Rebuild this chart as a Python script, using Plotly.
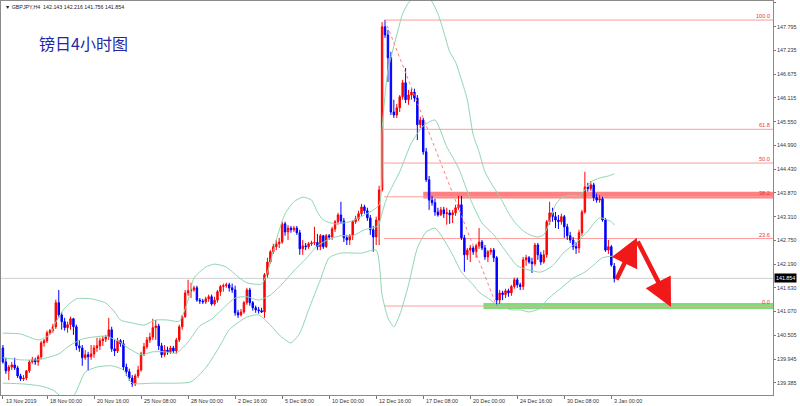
import plotly.graph_objects as go

# ---------------- data (GBPJPY H4) ----------------
opens = [
140.21, 139.88, 139.67, 139.76, 139.81, 139.74, 139.55, 139.48, 139.50, 139.67,
139.88, 139.93, 139.88, 140.00, 140.33, 140.38, 140.57, 140.62, 140.71, 141.28,
140.99, 140.83, 140.69, 140.76, 140.90, 140.71, 140.26, 140.21, 139.98, 140.05,
140.00, 140.07, 140.21, 140.26, 140.38, 140.42, 140.47, 140.64, 140.19, 140.14,
140.38, 140.31, 139.76, 139.65, 139.50, 139.36, 139.55, 139.69, 140.07, 140.24,
140.40, 140.47, 140.69, 140.73, 140.26, 140.05, 140.16, 140.12, 140.21, 140.14,
140.40, 140.71, 140.95, 141.51, 141.56, 141.58, 141.63, 141.34, 141.32, 141.30,
141.37, 141.42, 141.25, 141.34, 141.54, 141.66, 141.68, 141.70, 141.63, 141.58,
141.04, 140.99, 141.06, 141.28, 141.58, 141.28, 141.16, 141.11, 141.09, 141.06,
141.94, 142.24, 142.48, 142.60, 142.67, 142.71, 143.14, 142.95, 143.04, 143.00,
143.04, 142.93, 142.55, 142.62, 142.60, 142.67, 142.69, 142.70, 142.60, 142.86,
142.60, 142.86, 142.83, 143.02, 143.19, 143.35, 143.21, 142.81, 142.76, 142.86,
143.19, 143.26, 143.38, 143.54, 143.45, 143.28, 143.00, 142.83, 143.23, 143.94,
147.79, 147.60, 147.06, 145.78, 145.71, 145.88, 146.14, 146.47, 146.07, 146.18,
146.25, 146.11, 145.48, 145.59, 144.84, 144.18, 143.70, 143.64, 143.42, 143.35,
143.47, 143.38, 143.40, 143.35, 143.40, 143.52, 143.59, 142.81, 142.41, 142.52,
142.57, 142.48, 142.62, 142.71, 142.57, 142.36, 142.48, 142.52, 142.34, 141.34,
141.51, 141.47, 141.56, 141.51, 141.66, 141.82, 141.70, 141.66, 142.29, 142.34,
142.24, 142.20, 142.64, 142.41, 142.24, 142.41, 143.19, 143.40, 143.31, 143.23,
143.19, 143.31, 143.07, 142.86, 142.76, 142.60, 142.57, 142.93, 143.42, 144.01,
143.97, 144.06, 143.76, 143.70, 143.73, 143.23, 142.52, 142.60, 142.143]

highs = [
140.28, 139.98, 139.81, 139.88, 139.98, 139.79, 139.60, 139.57, 139.69, 139.93,
140.00, 139.98, 140.05, 140.38, 140.42, 140.62, 140.66, 140.78, 141.35, 141.58,
141.06, 140.92, 140.83, 140.95, 140.92, 140.76, 140.40, 140.28, 140.16, 140.12,
140.28, 140.28, 140.45, 140.45, 140.49, 140.52, 140.92, 140.71, 140.40, 140.45,
140.42, 140.40, 139.84, 139.72, 139.57, 139.60, 139.79, 140.12, 140.33, 140.47,
140.57, 140.90, 140.87, 140.78, 140.33, 140.28, 140.24, 140.26, 140.26, 140.45,
140.76, 140.99, 141.58, 141.82, 141.75, 141.68, 141.68, 141.39, 141.37, 141.42,
141.47, 141.47, 141.42, 141.58, 141.70, 141.73, 141.75, 141.75, 141.73, 141.68,
141.11, 141.13, 141.32, 141.63, 141.63, 141.32, 141.21, 141.18, 141.16, 141.98,
142.34, 142.52, 142.67, 142.76, 142.81, 143.19, 143.19, 143.11, 143.09, 143.09,
143.09, 143.00, 142.76, 142.69, 142.71, 142.74, 143.07, 142.90, 142.90, 142.88,
142.90, 142.90, 143.07, 143.23, 143.40, 143.66, 143.28, 142.88, 142.90, 143.23,
143.33, 143.45, 143.61, 143.59, 143.52, 143.35, 143.09, 143.31, 144.04, 147.90,
147.95, 147.72, 147.20, 146.07, 145.97, 146.18, 146.54, 146.82, 146.30, 146.35,
146.33, 146.18, 145.67, 145.64, 144.93, 144.27, 143.80, 143.73, 143.52, 143.54,
143.54, 143.52, 143.47, 143.47, 143.59, 143.80, 143.80, 142.88, 142.57, 142.64,
142.62, 142.67, 143.04, 142.76, 142.64, 142.52, 142.57, 142.57, 142.38, 141.58,
141.56, 141.61, 141.61, 141.70, 141.87, 141.87, 141.75, 142.36, 142.41, 142.38,
142.34, 142.69, 142.69, 142.48, 142.52, 143.23, 143.66, 143.52, 143.42, 143.35,
143.38, 143.35, 143.14, 142.95, 142.83, 142.71, 143.00, 143.47, 144.37, 144.11,
144.15, 144.11, 143.85, 143.82, 143.78, 143.28, 142.76, 142.64, 142.216]

lows = [
139.84, 139.60, 139.45, 139.69, 139.69, 139.50, 139.43, 139.43, 139.45, 139.62,
139.84, 139.81, 139.79, 139.95, 140.24, 140.33, 140.52, 140.57, 140.66, 140.92,
140.64, 140.62, 140.57, 140.64, 140.52, 140.16, 140.12, 139.79, 139.93, 139.67,
139.93, 139.98, 140.12, 140.16, 140.26, 140.35, 140.40, 140.12, 140.02, 140.09,
140.24, 139.69, 139.55, 139.43, 139.29, 139.31, 139.50, 139.65, 140.02, 140.19,
140.33, 140.40, 140.40, 140.16, 139.98, 140.00, 140.05, 140.07, 140.09, 140.07,
140.35, 140.64, 140.92, 141.44, 141.39, 141.54, 141.30, 141.25, 141.25, 141.25,
141.30, 141.21, 141.21, 141.28, 141.44, 141.54, 141.63, 141.54, 141.51, 140.97,
140.92, 140.95, 141.02, 141.23, 141.21, 141.09, 141.04, 141.02, 141.04, 140.92,
141.87, 142.20, 142.43, 142.52, 142.57, 142.67, 142.86, 142.76, 142.93, 142.95,
142.88, 142.41, 142.41, 142.52, 142.55, 142.62, 142.64, 142.52, 142.52, 142.55,
142.57, 142.76, 142.76, 142.95, 143.12, 143.14, 142.71, 142.64, 142.64, 142.76,
143.14, 143.21, 143.33, 143.38, 143.21, 142.88, 142.48, 142.64, 142.64, 143.90,
147.53, 146.49, 145.71, 145.64, 145.64, 145.78, 146.07, 145.99, 145.95, 146.07,
146.02, 145.12, 145.40, 144.77, 144.13, 143.47, 143.57, 143.33, 143.31, 143.33,
143.28, 143.12, 143.14, 143.16, 143.33, 143.47, 142.76, 142.01, 142.29, 142.24,
142.41, 142.34, 142.55, 142.52, 142.29, 142.24, 142.41, 142.24, 141.20, 141.25,
141.34, 141.39, 141.42, 141.44, 141.61, 141.63, 141.58, 141.58, 142.15, 142.20,
141.98, 142.15, 142.29, 142.17, 142.20, 142.34, 143.12, 143.19, 143.04, 143.02,
143.12, 142.81, 142.76, 142.69, 142.52, 142.43, 142.45, 142.86, 143.38, 143.90,
143.92, 143.68, 143.64, 143.64, 143.19, 142.48, 142.43, 142.13, 141.756]

closes = [
139.88, 139.67, 139.76, 139.81, 139.74, 139.55, 139.48, 139.50, 139.67, 139.88,
139.93, 139.88, 140.00, 140.33, 140.38, 140.57, 140.62, 140.71, 141.28, 140.99,
140.83, 140.69, 140.76, 140.90, 140.71, 140.26, 140.21, 139.98, 140.05, 140.00,
140.07, 140.21, 140.26, 140.38, 140.42, 140.47, 140.64, 140.19, 140.14, 140.38,
140.31, 139.76, 139.65, 139.50, 139.36, 139.55, 139.69, 140.07, 140.24, 140.40,
140.47, 140.69, 140.73, 140.26, 140.05, 140.16, 140.12, 140.21, 140.14, 140.40,
140.71, 140.95, 141.51, 141.56, 141.58, 141.63, 141.34, 141.32, 141.30, 141.37,
141.42, 141.25, 141.34, 141.54, 141.66, 141.68, 141.70, 141.63, 141.58, 141.04,
140.99, 141.06, 141.28, 141.58, 141.28, 141.16, 141.11, 141.09, 141.06, 141.94,
142.24, 142.48, 142.60, 142.67, 142.71, 143.14, 142.95, 143.04, 143.00, 143.04,
142.93, 142.55, 142.62, 142.60, 142.67, 142.69, 142.70, 142.60, 142.86, 142.60,
142.86, 142.83, 143.02, 143.19, 143.35, 143.21, 142.81, 142.76, 142.86, 143.19,
143.26, 143.38, 143.54, 143.45, 143.28, 143.00, 142.83, 143.23, 143.94, 147.79,
147.60, 147.06, 145.78, 145.71, 145.88, 146.14, 146.47, 146.07, 146.18, 146.25,
146.11, 145.48, 145.59, 144.84, 144.18, 143.70, 143.64, 143.42, 143.35, 143.47,
143.38, 143.40, 143.35, 143.40, 143.52, 143.59, 142.81, 142.41, 142.52, 142.57,
142.48, 142.62, 142.71, 142.57, 142.36, 142.48, 142.52, 142.34, 141.34, 141.51,
141.47, 141.56, 141.51, 141.66, 141.82, 141.70, 141.66, 142.29, 142.34, 142.24,
142.20, 142.64, 142.41, 142.24, 142.41, 143.19, 143.40, 143.31, 143.23, 143.19,
143.31, 143.07, 142.86, 142.76, 142.60, 142.57, 142.93, 143.42, 144.01, 143.97,
144.06, 143.76, 143.70, 143.73, 143.23, 142.52, 142.60, 142.17, 141.854]

# Bollinger bands (bar index, price)
bb_upper_idx = [0, 6, 12, 16, 18, 21, 25, 30, 35, 38, 40, 44, 48, 52, 56, 60, 63, 65, 69, 72,
                76, 80, 83, 88, 90, 93, 96, 99, 102, 105, 107, 109, 113, 118, 123, 128, 129, 130, 131, 132,
                134, 136, 138, 141, 144, 146, 148, 150, 152, 154, 156, 158, 160, 162, 164, 166, 168, 170, 172, 174,
                176, 178, 180, 182, 184, 186, 188, 190, 193, 196, 198, 200, 203, 206, 208]
bb_upper = [140.56, 140.54, 140.40, 140.52, 140.82, 141.15, 141.37, 141.37, 141.27, 141.06,
            140.87, 140.80, 140.75, 140.87, 140.87, 140.84, 141.34, 141.86, 142.12, 142.19,
            142.12, 141.89, 141.75, 141.72, 142.00, 142.76, 143.38, 143.66, 143.77, 143.70,
            143.42, 143.23, 143.14, 143.19, 143.35, 143.59, 145.36, 146.18, 146.77, 147.06,
            147.60, 148.10, 148.36, 148.52, 148.52, 148.38, 148.10, 147.67, 147.20, 146.96,
            146.54, 146.07, 145.24, 144.84, 144.37, 144.11, 143.89, 143.66, 143.40, 143.19,
            143.04, 142.93, 142.86, 142.83, 142.88, 143.19, 143.59, 143.75, 143.82, 143.80,
            143.94, 144.13, 144.22, 144.27, 144.32]

bb_mid_idx = [0, 6, 12, 16, 19, 23, 27, 31, 35, 39, 43, 47, 51, 55, 59, 63, 67, 71, 75, 79,
              83, 87, 91, 95, 99, 103, 107, 111, 115, 119, 123, 127, 128, 129, 130, 131, 135, 139, 143, 147,
              151, 155, 159, 163, 167, 171, 175, 179, 183, 187, 191, 195, 199, 203, 207, 208]
bb_mid = [139.98, 139.93, 139.93, 140.00, 140.07, 140.28, 140.42, 140.47, 140.49, 140.38,
          140.19, 140.05, 140.12, 140.12, 140.09, 140.35, 140.73, 140.89, 141.15, 141.39,
          141.42, 141.34, 141.46, 141.72, 142.03, 142.31, 142.62, 142.78, 142.86, 142.86,
          143.00, 143.07, 143.14, 143.40, 143.63, 143.82, 144.37, 145.05, 145.45, 145.59,
          144.96, 144.46, 143.73, 143.16, 142.88, 142.50, 142.15, 142.05, 142.00, 142.15,
          142.48, 142.69, 142.97, 143.28, 143.19, 143.11]

bb_lower_idx = [0, 7, 13, 17, 20, 24, 28, 32, 37, 41, 44, 51, 59, 64, 69, 74, 77, 83, 87, 91,
                94, 98, 101, 104, 108, 111, 115, 122, 127, 129, 131, 133, 135, 138, 141, 144, 147, 149, 153, 156,
                160, 162, 166, 168, 173, 176, 179, 183, 185, 190, 194, 198, 201, 204, 208]
bb_lower = [139.38, 139.36, 139.31, 139.22, 139.06, 139.08, 139.64, 139.76, 139.79, 139.69,
            139.38, 139.38, 139.38, 139.41, 139.74, 140.28, 140.64, 140.94, 140.99, 140.75,
            140.52, 140.33, 140.56, 141.11, 141.82, 142.34, 142.45, 142.45, 142.52, 141.46,
            140.92, 140.71, 140.99, 141.70, 142.57, 142.95, 143.04, 142.88, 142.41, 142.00,
            141.70, 141.53, 141.34, 141.23, 141.11, 141.11, 141.06, 141.15, 141.34, 141.63,
            141.86, 142.00, 142.17, 142.34, 142.38]

time_label_idx = [0, 15, 31, 47, 63, 79, 95, 111, 127, 143, 159, 175, 191, 207]
time_labels = ["13 Nov 2019", "18 Nov 00:00", "20 Nov 16:00", "25 Nov 08:00", "28 Nov 00:00",
               "2 Dec 16:00", "5 Dec 08:00", "10 Dec 00:00", "12 Dec 16:00", "17 Dec 08:00",
               "20 Dec 00:00", "24 Dec 16:00", "30 Dec 08:00", "3 Jan 00:00"]

price_ticks = [148.355, 147.795, 147.235, 146.675, 146.115, 145.550, 144.990, 144.430, 143.870,
               143.310, 142.750, 142.190, 141.630, 141.070, 140.505, 139.945, 139.385]
price_tick_labels = ["148.355", "147.795", "147.235", "146.675", "146.115", "145.550", "144.990",
                     "144.430", "143.870", "143.310", "142.750", "142.190", "141.630", "141.070",
                     "140.505", "139.945", "139.385"]

# Fibonacci retracement anchors (bar index, price)
fib_high_idx, fib_high = 130, 147.95
fib_low_idx, fib_low = 168, 141.20
fib_ratios = [0.0, 23.6, 38.2, 50.0, 61.8, 100.0]

# Zones (price bands) and start bars
red_zone = (143.74, 143.90)
red_zone_start = 143
green_zone = (141.13, 141.27)
green_zone_start = 163.5

# Projection arrows: (tail bar, tail price) -> (tip bar, tip price)
arrow_tail_x = [208.5, 215.7]
arrow_tail_y = [141.79, 142.76]
arrow_tip_x = [215.7, 227.3]
arrow_tip_y = [142.81, 141.18]

symbol = "GBPJPY,H4"
title_text = "镑日4小时图"

# ---------------- figure ----------------
X_MIN, X_MAX = -0.65, 262
Y_MIN, Y_MAX = 139.10, 148.40
FONT = "Liberation Sans"
n = len(closes)
xs = list(range(n))

band_col = "#8fd6b0"
fig = go.Figure()
for bx, by in [(bb_upper_idx, bb_upper), (bb_mid_idx, bb_mid), (bb_lower_idx, bb_lower)]:
    fig.add_trace(go.Scatter(x=bx, y=by, mode="lines",
                             line=dict(color=band_col, width=1, shape="spline", smoothing=0.6),
                             hoverinfo="skip", showlegend=False))

fig.add_trace(go.Candlestick(
    x=xs, open=opens, high=highs, low=lows, close=closes,
    increasing=dict(line=dict(color="#ff0000", width=1), fillcolor="#ff0000"),
    decreasing=dict(line=dict(color="#0000ff", width=1), fillcolor="#0000ff"),
    whiskerwidth=0, showlegend=False, hoverinfo="skip"))

shapes = []
shapes.append(dict(type="rect", xref="x", yref="y", x0=red_zone_start, x1=X_MAX,
                   y0=red_zone[0], y1=red_zone[1], fillcolor="#ff8080", line=dict(width=0),
                   layer="below"))
shapes.append(dict(type="rect", xref="x", yref="y", x0=green_zone_start, x1=X_MAX,
                   y0=green_zone[0], y1=green_zone[1], fillcolor="#78e078", line=dict(width=0),
                   layer="below"))
shapes.append(dict(type="line", xref="x", yref="y", x0=X_MIN, x1=X_MAX,
                   y0=closes[-1], y1=closes[-1], line=dict(color="#cfcfcf", width=1),
                   layer="below"))
fib_range = fib_high - fib_low
annotations = []
for r in fib_ratios:
    lvl = fib_low + fib_range * r / 100.0
    shapes.append(dict(type="line", xref="x", yref="y", x0=fib_high_idx - 0.3, x1=X_MAX,
                       y0=lvl, y1=lvl, line=dict(color="#ff9c9c", width=1), layer="below"))
    annotations.append(dict(x=X_MAX, y=lvl, xref="x", yref="y", text=f"{r:.1f}",
                            showarrow=False, xanchor="right", yanchor="bottom", xshift=-1, yshift=-1,
                            font=dict(family=FONT, size=5.6, color="#e83a3a")))
shapes.append(dict(type="line", xref="x", yref="y", x0=fib_high_idx, y0=fib_high,
                   x1=fib_low_idx, y1=fib_low, line=dict(color="#ff7a7a", width=1, dash="dot")))

for ti, tl in zip(time_label_idx, time_labels):
    annotations.append(dict(x=ti, y=0, xref="x", yref="paper", text=tl, showarrow=False,
                            xanchor="left", yanchor="top", xshift=1, yshift=-1,
                            font=dict(family=FONT, size=5.4, color="#333333")))

annotations.append(dict(x=0.1075, y=0.893, xref="paper", yref="paper", text=title_text,
                        showarrow=False, xanchor="center", yanchor="middle",
                        font=dict(family="Noto Sans CJK SC", size=16, color="#2626a8")))
header = f"▼ {symbol}  {opens[-1]:.3f} {highs[-1]:.3f} {lows[-1]:.3f} {closes[-1]:.3f}"
annotations.append(dict(x=0.002, y=0.998, xref="paper", yref="paper", text=header,
                        showarrow=False, xanchor="left", yanchor="top",
                        font=dict(family=FONT, size=5.3, color="#222222")))
annotations.append(dict(x=1, y=closes[-1], xref="paper", yref="y", text=f"{closes[-1]:.3f}",
                        showarrow=False, xanchor="left", yanchor="middle", xshift=1,
                        bgcolor="#000000", borderpad=1,
                        font=dict(family=FONT, size=5.3, color="#ffffff")))
for tx, ty, hx, hy in zip(arrow_tail_x, arrow_tail_y, arrow_tip_x, arrow_tip_y):
    annotations.append(dict(x=hx, y=hy, ax=tx, ay=ty, xref="x", yref="y", axref="x", ayref="y",
                            text="", showarrow=True, arrowhead=2, arrowsize=1.25, arrowwidth=4.5,
                            arrowcolor="#f01818", standoff=0, startstandoff=0))

fig.update_layout(
    width=800, height=406,
    margin=dict(l=1, r=27, t=1, b=11, autoexpand=False),
    paper_bgcolor="#ffffff", plot_bgcolor="#ffffff",
    showlegend=False, hovermode=False,
    shapes=shapes, annotations=annotations,
    font=dict(family=FONT, size=6, color="#333333"),
    xaxis=dict(range=[X_MIN, X_MAX], showgrid=False, zeroline=False, automargin=False,
               rangeslider=dict(visible=False),
               tickvals=time_label_idx, ticks="outside", ticklen=3, tickcolor="#777777",
               showticklabels=False, showline=True, linecolor="#8a8a8a", linewidth=1, mirror=True),
    yaxis=dict(range=[Y_MIN, Y_MAX], side="right", showgrid=False, zeroline=False, automargin=False,
               tickvals=price_ticks, ticktext=price_tick_labels, ticks="outside", ticklen=2,
               tickcolor="#777777", tickfont=dict(family=FONT, size=5.4, color="#333333"),
               showline=True, linecolor="#8a8a8a", linewidth=1, mirror=True),
)

# the page's default body margin would shift the 800x406 figure; remove it
fig.write_html("out.html",
               config={"displayModeBar": False, "staticPlot": True},
               post_script="document.body.style.margin='0';document.body.style.padding='0';"
                           "document.documentElement.style.overflow='hidden';")
